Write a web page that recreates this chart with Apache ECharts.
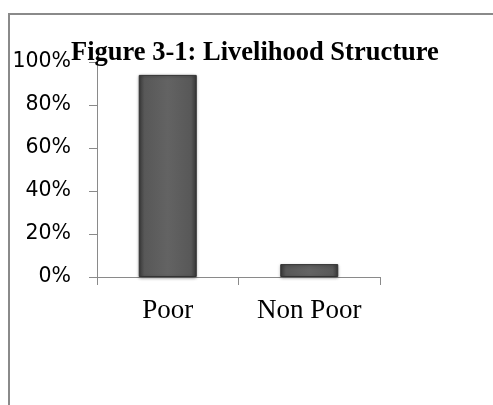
<!DOCTYPE html>
<html><head><meta charset="utf-8">
<script src="https://cdn.jsdelivr.net/npm/echarts@6/dist/echarts.min.js"></script>
<style>
html,body{margin:0;padding:0;background:#fff;}
#c{width:493px;height:405px;position:relative;}
#frame{position:absolute;left:8px;top:13px;width:600px;height:500px;border-left:2px solid #8a8a8a;border-top:2px solid #8a8a8a;pointer-events:none;}
</style></head>
<body>
<div id="c"></div>
<div id="frame"></div>
<script>
const categories = ['Poor', 'Non Poor'];
const shares = [0.94, 0.06];
const yTicks = { min: 0, max: 1, interval: 0.2 };

const chart = echarts.init(document.getElementById('c'), null, {renderer: 'canvas'});
chart.setOption({
  animation: false,
  backgroundColor: '#fff',
  title: {
    text: 'Figure 3-1: Livelihood Structure',
    left: 66, top: 35,
    textStyle: {fontFamily: 'Liberation Serif', fontWeight: 'bold', fontSize: 26.5, color: '#000'}
  },
  grid: {left: 97, top: 62, right: 113, bottom: 128, containLabel: false},
  xAxis: {
    type: 'category', data: categories,
    axisLine: {lineStyle: {color: '#8a8a8a', width: 1}},
    axisTick: {show: true, length: 8, lineStyle: {color: '#8a8a8a'}},
    axisLabel: {margin: 20, fontFamily: 'Liberation Serif', fontSize: 27, color: '#000'}
  },
  yAxis: {
    type: 'value', min: yTicks.min, max: yTicks.max, interval: yTicks.interval,
    axisLine: {show: true, lineStyle: {color: '#8a8a8a', width: 1}},
    axisTick: {show: true, length: 8, lineStyle: {color: '#8a8a8a'}},
    splitLine: {show: false},
    axisLabel: {margin: 26, fontFamily: 'DejaVu Sans', fontSize: 20.5, color: '#000',
      formatter: v => Math.round(v * 100) + '%'}
  },
  series: [{
    type: 'bar', data: shares, barWidth: '41%',
    itemStyle: {
      color: new echarts.graphic.LinearGradient(0, 0, 1, 0, [
        {offset: 0, color: '#3a3a3a'},
        {offset: 0.1, color: '#585858'},
        {offset: 0.5, color: '#636363'},
        {offset: 0.9, color: '#585858'},
        {offset: 1, color: '#3a3a3a'}
      ]),
      borderColor: '#333', borderWidth: 1,
      shadowColor: 'rgba(0,0,0,0.35)', shadowBlur: 3, shadowOffsetY: 1
    }
  }]
});
</script>
</body></html>
